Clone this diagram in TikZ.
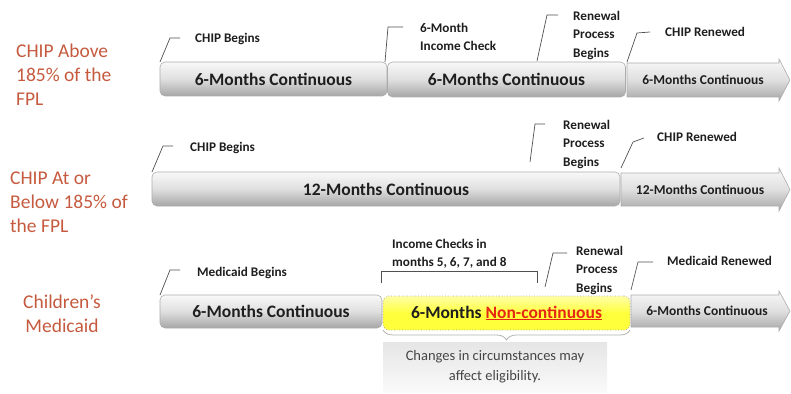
\documentclass[tikz,border=0pt]{standalone}
\usepackage{fontspec}
\setmainfont{Carlito}
\usetikzlibrary{decorations.pathreplacing}
\definecolor{lbl}{RGB}{197,90,62}
\definecolor{txt}{RGB}{30,30,30}
\definecolor{callout}{RGB}{80,80,80}
\definecolor{ncred}{RGB}{228,40,20}
\definecolor{yel}{RGB}{255,255,60}
\definecolor{notetxt}{RGB}{70,70,70}
\tikzset{
  barbox/.style={draw=gray!65, line width=0.6pt, rounded corners=5pt,
    top color=gray!5, bottom color=gray!70, middle color=gray!25,
    inner sep=0pt, outer sep=0pt, text=txt, font=\bfseries\fontsize{17.5}{20}\selectfont},
  yellowbox/.style={draw=gray!75, dotted, line width=0.7pt, rounded corners=6pt,
    top color=yel!45!white, bottom color=yel, middle color=yel,
    inner sep=0pt, outer sep=0pt, text=txt, font=\bfseries\fontsize{17.5}{20}\selectfont},
  arrowshape/.style={draw=gray!65, line width=0.6pt,
    top color=gray!5, bottom color=gray!70, middle color=gray!25},
  arrowtext/.style={text=txt, font=\bfseries\fontsize{13.5}{16}\selectfont, inner sep=0pt},
  lab/.style={text=txt, font=\bfseries\fontsize{13.2}{18.5}\selectfont, align=left, inner sep=0pt, anchor=west},
  cline/.style={draw=callout, line width=0.7pt},
  side/.style={text=lbl, font=\fontsize{19.5}{24}\selectfont, inner sep=0pt, anchor=west, align=left},
  notebox/.style={top color=gray!20, bottom color=gray!4, draw=none, inner sep=0pt,
    text=notetxt, font=\fontsize{14.5}{20}\selectfont, align=center},
  bracestyle/.style={decorate, decoration={brace, amplitude=10pt}, draw=gray!60, line width=0.8pt},
}
\begin{document}
\begin{tikzpicture}[x=1pt,y=-1pt]
\useasboundingbox (0,0) rectangle (791,393);

% side labels
\node[side] (s1) at (16,75) {CHIP Above\\185\% of the\\FPL};
\node[side] (s2) at (10,202) {CHIP At or\\Below 185\% of\\the FPL};
\node[side, align=center, anchor=center] (s3) at (62,314) {Children’s\\Medicaid};

% ---------- Row 1 ----------
\node[barbox, minimum width=227, minimum height=34] (a1) at (273.5,79) {6-Months Continuous};
\node[barbox, minimum width=238, minimum height=35] (a2) at (506.5,79.5) {6-Months Continuous};
\path[arrowshape] (627,63) -- (779,63) -- (779,59) -- (790,80) -- (779,101) -- (779,97) -- (627,97) -- cycle;
\node[arrowtext] (a3) at (703,80) {6-Months Continuous};

\coordinate (k1a) at (170,38); \coordinate (k1b) at (180,38);
\draw[cline] (a1.north west) -- (k1a) -- (k1b);
\node[lab] (l1) at (195,39) {CHIP Begins};

\coordinate (k2s) at (385,62); \coordinate (k2a) at (388,27); \coordinate (k2b) at (403,27);
\draw[cline] (k2s) -- (k2a) -- (k2b);
\node[lab] (l2) at (420,37) {6-Month\\Income Check};

\coordinate (k3s) at (537,61); \coordinate (k3a) at (547,15); \coordinate (k3b) at (558,15);
\draw[cline] (k3s) -- (k3a) -- (k3b);
\node[lab] (l3) at (573,35) {Renewal\\Process\\Begins};

\coordinate (k4s) at (627,62); \coordinate (k4a) at (637,33); \coordinate (k4b) at (650,32);
\draw[cline] (k4s) -- (k4a) -- (k4b);
\node[lab] (l4) at (665,32) {CHIP Renewed};

% ---------- Row 2 ----------
\node[barbox, minimum width=468, minimum height=34] (b1) at (386,189) {12-Months Continuous};
\path[arrowshape] (621,173) -- (779,173) -- (779,168) -- (790,189.5) -- (779,211) -- (779,206) -- (621,206) -- cycle;
\node[arrowtext] (b2) at (700,190) {12-Months Continuous};

\coordinate (m1a) at (163,146); \coordinate (m1b) at (173,146);
\draw[cline] (b1.north west) -- (m1a) -- (m1b);
\node[lab] (n1) at (190,148) {CHIP Begins};

\coordinate (m2s) at (530,162); \coordinate (m2a) at (535,124); \coordinate (m2b) at (545,124);
\draw[cline] (m2s) -- (m2a) -- (m2b);
\node[lab] (n2) at (563,144) {Renewal\\Process\\Begins};

\coordinate (m3s) at (621,168); \coordinate (m3a) at (633,142); \coordinate (m3b) at (644,138);
\draw[cline] (m3s) -- (m3a) -- (m3b);
\node[lab] (n3) at (657,137) {CHIP Renewed};

% ---------- Row 3 ----------
\node[barbox, minimum width=222, minimum height=33] (c1) at (271,311.5) {6-Months Continuous};
\node[yellowbox, minimum width=247, minimum height=34] (c2) at (506.5,313) {6-Months \textcolor{ncred}{\underline{Non-continuous}}};
\path[arrowshape] (631,295) -- (779,295) -- (779,291) -- (790,311) -- (779,331) -- (779,327) -- (631,327) -- cycle;
\node[arrowtext] (c3) at (707,311) {6-Months Continuous};

\coordinate (p1a) at (170,270); \coordinate (p1b) at (180,270);
\draw[cline] (c1.north west) -- (p1a) -- (p1b);
\node[lab] (q1) at (197,273) {Medicaid Begins};

\coordinate (p2a) at (381,283); \coordinate (p2b) at (381,271); \coordinate (p2c) at (537,271); \coordinate (p2d) at (537,283);
\draw[cline] (p2a) -- (p2b) -- (p2c) -- (p2d);
\node[lab] (q2) at (392,254) {Income Checks in\\months 5, 6, 7, and 8};

\coordinate (p3s) at (545,287); \coordinate (p3a) at (553,253); \coordinate (p3b) at (567,253);
\draw[cline] (p3s) -- (p3a) -- (p3b);
\node[lab] (q3) at (576,270) {Renewal\\Process\\Begins};

\coordinate (p4s) at (631,290); \coordinate (p4a) at (638,262); \coordinate (p4b) at (653,262);
\draw[cline] (p4s) -- (p4a) -- (p4b);
\node[lab] (q4) at (667,261) {Medicaid Renewed};

% brace and note
\draw[bracestyle] (c2.south east) -- (c2.south west);
\node[notebox, minimum width=224, minimum height=50, anchor=north] (note) at (495,342) {Changes in circumstances may\\affect eligibility.};
\end{tikzpicture}
\end{document}
